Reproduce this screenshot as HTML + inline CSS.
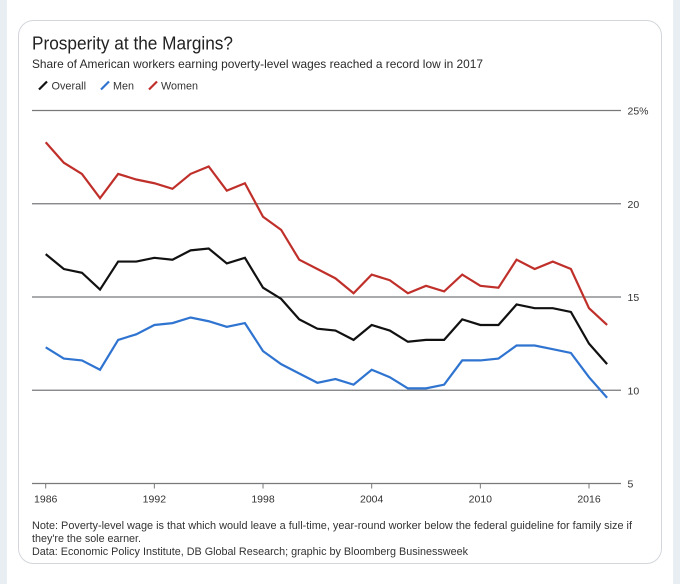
<!DOCTYPE html>
<html lang="en">
<head>
<meta charset="utf-8">
<title>Prosperity at the Margins?</title>
<style>
html,body{margin:0;padding:0;background:#fff;width:680px;height:584px;overflow:hidden}
#stage{position:absolute;left:0;top:0;width:680px;height:584px;display:block}
text{font-family:"Liberation Sans",Arial,sans-serif;fill:#333}
</style>
</head>
<body>
<svg id="stage" width="680" height="584" viewBox="0 0 680 584" xmlns="http://www.w3.org/2000/svg">
  <rect x="0" y="0" width="680" height="584" fill="#ffffff"/>
  <rect x="0" y="0" width="7" height="584" fill="#e9eef3"/>
  <rect x="673" y="0" width="7" height="584" fill="#e9eef3"/>
  <rect x="18.5" y="20.5" width="643" height="543" rx="15" ry="15" fill="#ffffff" stroke="#d3d6da" stroke-width="1"/>

  <text x="32" y="49.5" font-size="18.5" textLength="201" lengthAdjust="spacingAndGlyphs" style="fill:#222">Prosperity at the Margins?</text>
  <text x="32" y="68" font-size="12" textLength="451" lengthAdjust="spacingAndGlyphs" style="fill:#2a2a2a">Share of American workers earning poverty-level wages reached a record low in 2017</text>

  <g>
    <line x1="39" y1="89.5" x2="47" y2="81.5" stroke="#111111" stroke-width="2.2"/>
    <text x="51.5" y="89.3" font-size="10.8" textLength="34.5" lengthAdjust="spacingAndGlyphs">Overall</text>
    <line x1="101" y1="89.5" x2="109" y2="81.5" stroke="#2f74d0" stroke-width="2.2"/>
    <text x="113" y="89.3" font-size="10.8" textLength="21" lengthAdjust="spacingAndGlyphs">Men</text>
    <line x1="149" y1="89.5" x2="157" y2="81.5" stroke="#c0302b" stroke-width="2.2"/>
    <text x="161" y="89.3" font-size="10.8" textLength="37" lengthAdjust="spacingAndGlyphs">Women</text>
  </g>

  <g id="grid"></g>
  <g id="xaxis"></g>
  <g id="series"></g>

  <g>
    <text x="32" y="529" font-size="11.2" textLength="600" lengthAdjust="spacingAndGlyphs">Note: Poverty-level wage is that which would leave a full-time, year-round worker below the federal guideline for family size if</text>
    <text x="32" y="542" font-size="11.2" textLength="109" lengthAdjust="spacingAndGlyphs">they're the sole earner.</text>
    <text x="32" y="555" font-size="11.2" textLength="436" lengthAdjust="spacingAndGlyphs">Data: Economic Policy Institute, DB Global Research; graphic by Bloomberg Businessweek</text>
  </g>
</svg>
<script>
const years = [1986,1987,1988,1989,1990,1991,1992,1993,1994,1995,1996,1997,1998,1999,2000,2001,2002,2003,2004,2005,2006,2007,2008,2009,2010,2011,2012,2013,2014,2015,2016,2017];
const womenValues = [23.3,22.2,21.6,20.3,21.6,21.3,21.1,20.8,21.6,22.0,20.7,21.1,19.3,18.6,17.0,16.5,16.0,15.2,16.2,15.9,15.2,15.6,15.3,16.2,15.6,15.5,17.0,16.5,16.9,16.5,14.4,13.5];
const overallValues = [17.3,16.5,16.3,15.4,16.9,16.9,17.1,17.0,17.5,17.6,16.8,17.1,15.5,14.9,13.8,13.3,13.2,12.7,13.5,13.2,12.6,12.7,12.7,13.8,13.5,13.5,14.6,14.4,14.4,14.2,12.5,11.4];
const menValues = [12.3,11.7,11.6,11.1,12.7,13.0,13.5,13.6,13.9,13.7,13.4,13.6,12.1,11.4,10.9,10.4,10.6,10.3,11.1,10.7,10.1,10.1,10.3,11.6,11.6,11.7,12.4,12.4,12.2,12.0,10.7,9.6];
const yTicks = [25,20,15,10,5];
const yTickLabels = ['25%','20','15','10','5'];
const xTicks = [1986,1992,1998,2004,2010,2016];

const NS = 'http://www.w3.org/2000/svg';
function xScale(year){ return 45.7 + (year - 1986) * 18.11; }
function yScale(v){ return 483.5 - (v - 5) * 18.65; }

const grid = document.getElementById('grid');
yTicks.forEach(function(t, i){
  const y = yScale(t);
  const line = document.createElementNS(NS, 'line');
  
  
  line.setAttribute('x1', 32);
  line.setAttribute('x2', 621);
  line.setAttribute('y1', y);
  line.setAttribute('y2', y);
  line.setAttribute('stroke', '#77797b');
  line.setAttribute('stroke-width', 1.3);
  grid.appendChild(line);
  const label = document.createElementNS(NS, 'text');
  
  
  label.setAttribute('x', 627.5);
  label.setAttribute('y', y + 4);
  label.setAttribute('font-size', 10.5);
  label.textContent = yTickLabels[i];
  grid.appendChild(label);
});

const xaxis = document.getElementById('xaxis');
xTicks.forEach(function(t){
  const x = xScale(t);
  const tick = document.createElementNS(NS, 'line');
  
  
  tick.setAttribute('x1', x);
  tick.setAttribute('x2', x);
  tick.setAttribute('y1', yScale(5));
  tick.setAttribute('y2', yScale(5) + 5);
  tick.setAttribute('stroke', '#77797b');
  tick.setAttribute('stroke-width', 1);
  xaxis.appendChild(tick);
  const label = document.createElementNS(NS, 'text');
  
  
  label.setAttribute('x', x);
  label.setAttribute('y', 502.5);
  label.setAttribute('font-size', 10.5);
  label.setAttribute('text-anchor', 'middle');
  label.textContent = String(t);
  xaxis.appendChild(label);
});

function drawSeries(values, color, name){
  const path = document.createElementNS(NS, 'polyline');
  
  
  path.setAttribute('points', values.map(function(v, i){
    return xScale(years[i]).toFixed(2) + ',' + yScale(v).toFixed(2);
  }).join(' '));
  path.setAttribute('fill', 'none');
  path.setAttribute('stroke', color);
  path.setAttribute('stroke-width', 2.2);
  path.setAttribute('stroke-linejoin', 'miter');
  document.getElementById('series').appendChild(path);
}
drawSeries(overallValues, '#111111', 'series-overall');
drawSeries(menValues, '#2f74d0', 'series-men');
drawSeries(womenValues, '#c0302b', 'series-women');
</script>
</body>
</html>
